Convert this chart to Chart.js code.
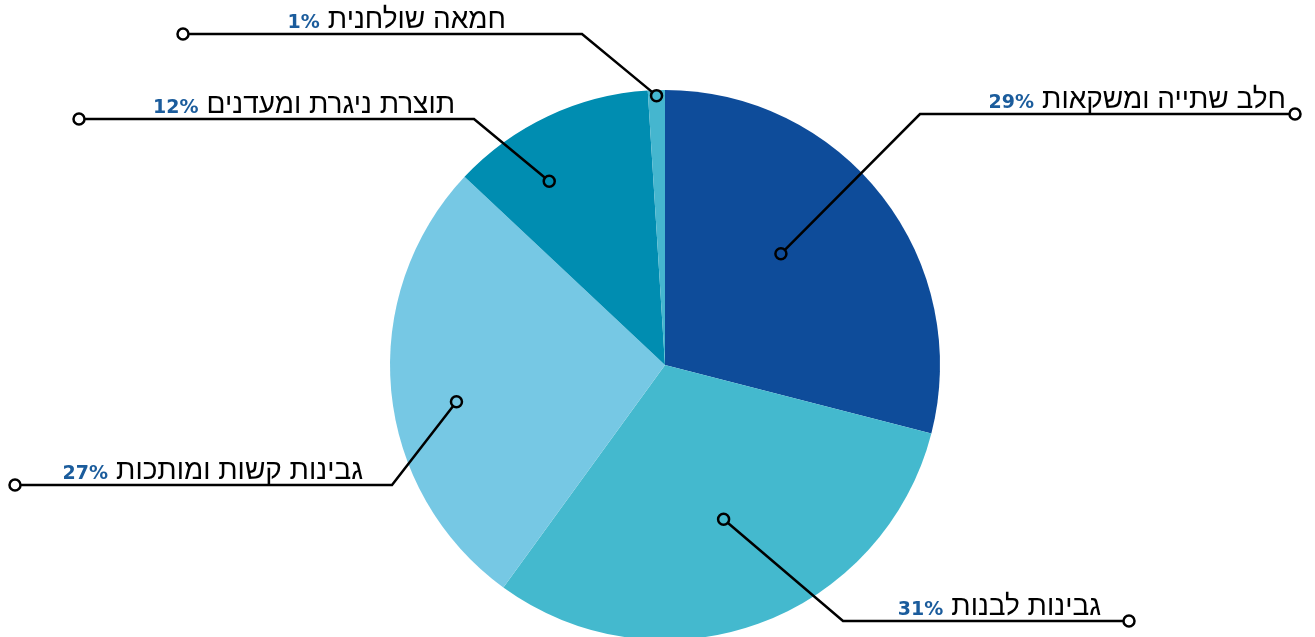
<!DOCTYPE html>
<html lang="he">
<head>
<meta charset="utf-8">
<script src="https://cdn.jsdelivr.net/npm/chart.js@4"></script>
<style>
    html, body { margin: 0; padding: 0; background: #fff; }
    #wrap { width: 1315px; height: 637px; position: relative; }
</style>
</head>
<body>
<div id="wrap"><canvas id="pieChart"></canvas></div>
<script>
// data
const categories = ["חלב שתייה ומשקאות", "גבינות לבנות", "גבינות קשות ומותכות", "תוצרת ניגרת ומעדנים", "חמאה שולחנית"];
const shares = [29, 31, 27, 12, 1];
const sliceColors = ["#0e4c9a", "#44b9ce", "#76c8e4", "#008db1", "#45b6cf"];

// label layout (leader line: anchor depth/angle shift in slice, elbow, end of line, right edge of text)
const anchorDepth = [0.584, 0.6, 0.77, 0.79, 0.98];
const anchorShift = [-6, -1, -4.6, -7, 0];
const elbows = [[920, 114], [843, 621], [392, 485], [474, 119], [582, 34]];
const lineEnds = [1295, 1129, 15, 79, 183];
const textRight = [1286, 1101, 363, 455, 506];

const labelFont = '28px "Liberation Sans", "DejaVu Sans", sans-serif';
const pctFont = 'bold 19px "DejaVu Sans", sans-serif';

const leaderLabels = {
    id: "leaderLabels",
    afterDatasetsDraw(chart) {
        const ctx = chart.ctx;
        const arcs = chart.getDatasetMeta(0).data;
        ctx.save();
        arcs.forEach((arc, i) => {
            const mid = (arc.startAngle + arc.endAngle) / 2 + anchorShift[i] * Math.PI / 180;
            const r = arc.outerRadius * anchorDepth[i];
            const ax = arc.x + Math.cos(mid) * r;
            const ay = arc.y + Math.sin(mid) * r;
            const [ex, ey] = elbows[i];

            ctx.strokeStyle = "#000";
            ctx.lineWidth = 2.5;
            ctx.beginPath();
            ctx.moveTo(ax, ay);
            ctx.lineTo(ex, ey);
            ctx.lineTo(lineEnds[i], ey);
            ctx.stroke();

            [[ax, ay], [lineEnds[i], ey]].forEach((p, k) => {
                ctx.beginPath();
                ctx.arc(p[0], p[1], 5.5, 0, Math.PI * 2);
                ctx.fillStyle = k === 0 ? sliceColors[i] : "#fff";
                ctx.fill();
                ctx.stroke();
            });

            // text
            ctx.textBaseline = "alphabetic";
            ctx.textAlign = "right";
            ctx.direction = "rtl";
            ctx.font = labelFont;
            ctx.fillStyle = "#000";
            ctx.fillText(categories[i], textRight[i], ey - 6);
            const w = ctx.measureText(categories[i]).width;

            ctx.direction = "ltr";
            ctx.font = pctFont;
            ctx.fillStyle = "#1b5c9c";
            ctx.fillText(shares[i] + "%", textRight[i] - w - 8, ey - 6);
        });
        ctx.restore();
    }
};

new Chart(document.getElementById("pieChart").getContext("2d"), {
    type: "pie",
    data: {
        labels: categories,
        datasets: [{
            data: shares,
            backgroundColor: sliceColors,
            borderWidth: 0,
            radius: 275
        }]
    },
    options: {
        responsive: true,
        maintainAspectRatio: false,
        animation: false,
        events: [],
        layout: { padding: { left: 15, top: 93, right: 0, bottom: 0 } },
        plugins: {
            legend: { display: false },
            tooltip: { enabled: false }
        }
    },
    plugins: [leaderLabels]
});
</script>
</body>
</html>
